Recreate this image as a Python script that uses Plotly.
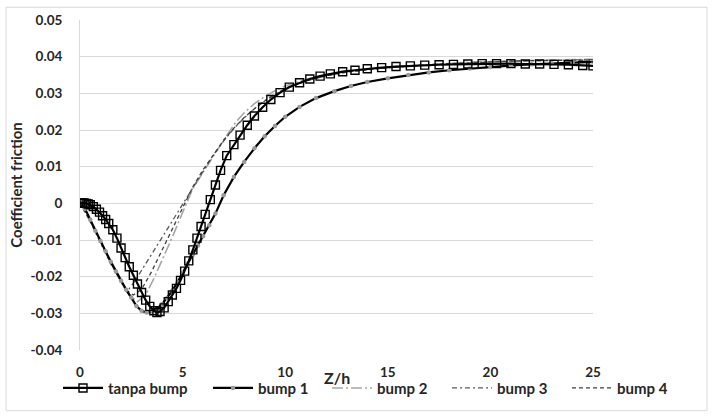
import plotly.graph_objects as go

# ---------------- data ----------------
x_tanpa = [0, 0.1, 0.2, 0.3, 0.4, 0.5, 0.65, 0.8, 0.95, 1.1, 1.25, 1.4, 1.6, 1.8, 2.0,
           2.2, 2.4, 2.6, 2.8, 3.0, 3.2, 3.4, 3.6, 3.75, 3.9, 4.1, 4.3, 4.5, 4.7, 4.9,
           5.1, 5.3, 5.5, 5.7, 5.9, 6.1, 6.35, 6.6, 6.85, 7.15, 7.5, 7.8, 8.15, 8.5,
           8.9, 9.3, 9.75, 10.2, 10.7, 11.2, 11.7, 12.2, 12.8, 13.4, 14.0, 14.7, 15.4,
           16.1, 16.8, 17.5, 18.2, 18.9, 19.6, 20.3, 21.0, 21.7, 22.4, 23.1, 23.8,
           24.5, 25.0]
y_tanpa = [0.0000, 0.0001, 0.0001, 0.0000, -0.0002, -0.0004, -0.0009, -0.0016, -0.0024,
           -0.0034, -0.0044, -0.0055, -0.0072, -0.0095, -0.0122, -0.0148, -0.0173,
           -0.0196, -0.0220, -0.0243, -0.0264, -0.0281, -0.0293, -0.0298, -0.0295,
           -0.0285, -0.0268, -0.0250, -0.0232, -0.0210, -0.0185, -0.0157, -0.0127,
           -0.0095, -0.0063, -0.0030, 0.0010, 0.0050, 0.0090, 0.0130, 0.0160, 0.0186,
           0.0213, 0.0238, 0.0262, 0.0283, 0.0302, 0.0317, 0.0329, 0.0339, 0.0347,
           0.0353, 0.0359, 0.0363, 0.0367, 0.0370, 0.0373, 0.0375, 0.0377, 0.0378,
           0.0379, 0.0380, 0.0381, 0.0381, 0.0381, 0.0380, 0.0380, 0.0379, 0.0378,
           0.0376, 0.0375]

x_bump1 = [0, 0.25, 0.5, 0.75, 1.0, 1.25, 1.5, 1.75, 2.0, 2.25, 2.5, 2.75, 3.0, 3.25,
           3.5, 3.75, 4.0, 4.25, 4.5, 4.75, 5.0, 5.25, 5.5, 5.75, 6.0, 6.3, 6.6, 7.0,
           7.5, 8.0, 8.5, 9.0, 9.5, 10, 10.7, 11.5, 12.4, 13.2, 14, 15, 16, 17, 18, 19,
           20, 21, 22, 23, 24, 25]
y_bump1 = [0.0000, -0.0015, -0.0045, -0.0075, -0.0103, -0.0131, -0.0159, -0.0186,
           -0.0211, -0.0236, -0.0257, -0.0280, -0.0293, -0.0298, -0.0295, -0.0287,
           -0.0275, -0.0258, -0.0238, -0.0215, -0.0190, -0.0165, -0.0140, -0.0115,
           -0.0090, -0.0060, -0.0028, 0.0022, 0.0072, 0.0113, 0.0150, 0.0183, 0.0211,
           0.0236, 0.0263, 0.0287, 0.0306, 0.0320, 0.0331, 0.0341, 0.0350, 0.0357,
           0.0363, 0.0368, 0.0372, 0.0376, 0.0379, 0.0382, 0.0384, 0.0386]

x_bump2 = [0, 0.5, 1.0, 1.5, 2.0, 2.4, 2.8, 3.2, 3.6, 4.0, 4.5, 5.0, 5.5, 6.0, 6.5, 7.0,
           7.6, 8.0, 8.5, 9.0, 9.5, 10, 11, 12, 13, 14, 15, 16, 17, 18, 19, 20, 21, 22,
           23, 24, 25]
y_bump2 = [0.0000, -0.0048, -0.0105, -0.0163, -0.0215, -0.0250, -0.0268, -0.0250,
           -0.0205, -0.0155, -0.0092, -0.0025, 0.0040, 0.0085, 0.0130, 0.0172, 0.0222,
           0.0247, 0.0272, 0.0291, 0.0307, 0.0320, 0.0338, 0.0351, 0.0360, 0.0366,
           0.0371, 0.0375, 0.0379, 0.0382, 0.0385, 0.0387, 0.0389, 0.0390, 0.0391,
           0.0392, 0.0393]

x_bump3 = [0, 0.5, 1.0, 1.5, 2.0, 2.2, 2.4, 2.7, 3.0, 3.5, 4.0, 4.5, 5.0, 5.5, 6.0, 6.5,
           7.0, 7.5, 8.0, 8.5, 9.0, 9.5, 10, 11, 12, 13, 14, 15, 16, 17, 18, 19, 20,
           21, 22, 23, 24, 25]
y_bump3 = [0.0000, -0.0050, -0.0108, -0.0165, -0.0212, -0.0228, -0.0233, -0.0210,
           -0.0183, -0.0138, -0.0093, -0.0048, -0.0003, 0.0043, 0.0088, 0.0132, 0.0170,
           0.0204, 0.0233, 0.0258, 0.0280, 0.0298, 0.0313, 0.0334, 0.0348, 0.0358,
           0.0365, 0.0370, 0.0375, 0.0378, 0.0381, 0.0384, 0.0386, 0.0388, 0.0389,
           0.0390, 0.0391, 0.0392]

x_bump4 = [0, 0.5, 1.0, 1.5, 2.0, 2.3, 2.6, 3.0, 3.5, 4.0, 4.5, 5.0, 5.5, 6.0, 6.5, 7.0,
           7.5, 8.0, 8.5, 9.0, 9.5, 10, 11, 12, 13, 14, 15, 16, 17, 18, 19, 20, 21, 22,
           23, 24, 25]
y_bump4 = [0.0000, -0.0046, -0.0102, -0.0160, -0.0212, -0.0238, -0.0250, -0.0235,
           -0.0185, -0.0128, -0.0068, -0.0010, 0.0045, 0.0092, 0.0133, 0.0172, 0.0205,
           0.0234, 0.0258, 0.0279, 0.0296, 0.0311, 0.0333, 0.0348, 0.0358, 0.0365,
           0.0370, 0.0375, 0.0378, 0.0381, 0.0384, 0.0386, 0.0388, 0.0389, 0.0390,
           0.0391, 0.0391]

series_names = ["tanpa bump", "bump 1", "bump 2", "bump 3", "bump 4"]
x_ticks = [0, 5, 10, 15, 20, 25]
y_ticks = [-0.04, -0.03, -0.02, -0.01, 0, 0.01, 0.02, 0.03, 0.04, 0.05]
y_tick_text = ["-0.04", "-0.03", "-0.02", "-0.01", "0", "0.01", "0.02", "0.03", "0.04", "0.05"]
x_title = "Z/h"
y_title = "Coefficient friction"

# ---------------- figure ----------------
FONT = "Lato"
W, H = 712, 417
L, R, T, B = 80, 119, 16, 64
pw, ph = W - L - R, H - T - B


def px_x(p):
    return (p - L) / pw


def px_y(p):
    return 1 - (p - T) / ph


fig = go.Figure()

fig.add_trace(go.Scatter(x=x_bump2, y=y_bump2, name=series_names[2], mode="lines",
                         line=dict(color="#a6a6a6", width=1.6, dash="11px,3px,2px,3px"),
                         legend="legend3"))
fig.add_trace(go.Scatter(x=x_bump3, y=y_bump3, name=series_names[3], mode="lines",
                         line=dict(color="#595959", width=1.3, dash="5px,3px,2px,3px"),
                         legend="legend4"))
fig.add_trace(go.Scatter(x=x_bump4, y=y_bump4, name=series_names[4], mode="lines",
                         line=dict(color="#404040", width=1.3, dash="4px,3px"),
                         legend="legend5"))
fig.add_trace(go.Scatter(x=x_bump1, y=y_bump1, name=series_names[1], mode="lines+markers",
                         line=dict(color="#000000", width=2.2),
                         marker=dict(symbol="circle", size=4.5, color="#9a9a9a"),
                         legend="legend2"))
fig.add_trace(go.Scatter(x=x_tanpa, y=y_tanpa, name=series_names[0], mode="lines+markers",
                         line=dict(color="#000000", width=2.2),
                         marker=dict(symbol="square-open", size=8, color="#000000",
                                     line=dict(width=1.4)),
                         legend="legend"))

legend_font = dict(family=FONT, size=15, color="#262626", weight="bold")
starts = [58, 208, 327, 447, 567]
legend_keys = ["legend", "legend2", "legend3", "legend4", "legend5"]
leg_layout = {}
for key, sx in zip(legend_keys, starts):
    leg_layout[key] = dict(orientation="h", x=px_x(sx), xanchor="left",
                           y=px_y(392), yanchor="middle", font=legend_font,
                           bgcolor="rgba(0,0,0,0)", itemwidth=40,
                           tracegroupgap=0)

fig.update_layout(
    width=W, height=H,
    margin=dict(l=L, r=R, t=T, b=B),
    paper_bgcolor="white", plot_bgcolor="white",
    showlegend=True,
    **leg_layout,
    xaxis=dict(range=[0, 25], tickvals=x_ticks, showgrid=False, zeroline=False,
               showline=False, ticks="", ticklabelstandoff=12,
               tickfont=dict(family=FONT, size=13.5, color="#262626", weight="bold")),
    yaxis=dict(range=[-0.04, 0.05], tickvals=y_ticks, ticktext=y_tick_text,
               showgrid=True, gridcolor="#d9d9d9", gridwidth=1, zeroline=False,
               showline=True, linecolor="#d9d9d9", linewidth=1, ticks="",
               ticklabelstandoff=14,
               tickfont=dict(family=FONT, size=13.5, color="#262626", weight="bold"),
               title=dict(text=y_title, standoff=4,
                          font=dict(family=FONT, size=15, color="#262626", weight="bold"))),
    annotations=[dict(text=x_title, xref="paper", yref="paper", x=0.5, y=px_y(381),
                      xanchor="center", yanchor="middle", showarrow=False,
                      font=dict(family=FONT, size=16, color="#262626", weight="bold"))],
    shapes=[dict(type="rect", xref="paper", yref="paper",
                 x0=px_x(6), x1=px_x(707), y0=px_y(415), y1=px_y(3),
                 line=dict(color="#d9d9d9", width=1), layer="below")],
)

fig.write_html("out.html")
